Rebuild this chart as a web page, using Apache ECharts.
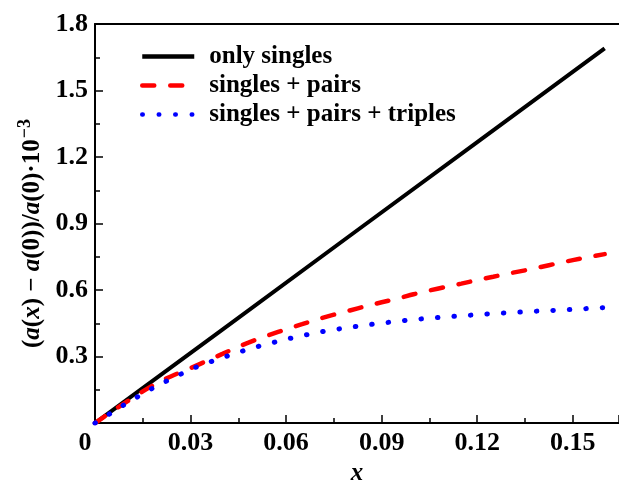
<!DOCTYPE html>
<html>
<head>
<meta charset="utf-8">
<script src="https://cdn.jsdelivr.net/npm/echarts@6/dist/echarts.min.js"></script>
<style>
  html, body { margin: 0; padding: 0; background: #fff; }
  #graph { width: 619px; height: 491px; }
</style>
</head>
<body>
<div id="graph"></div>
<script>
const FONT = "Liberation Serif";

const seriesNames = ["only singles", "singles + pairs", "singles + pairs + triples"];

const xSingles = [0, 0.04, 0.08, 0.12, 0.16];
const ySingles = [0, 0.422, 0.845, 1.267, 1.69];

const xCorr = [0, 0.005, 0.01, 0.015, 0.02, 0.025, 0.03, 0.035, 0.04, 0.045, 0.05,
    0.055, 0.06, 0.065, 0.07, 0.075, 0.08, 0.085, 0.09, 0.095, 0.1, 0.105, 0.11,
    0.115, 0.12, 0.125, 0.13, 0.135, 0.14, 0.145, 0.15, 0.155, 0.16];
const yPairs = [0, 0.050, 0.097, 0.143, 0.185, 0.218, 0.248, 0.280, 0.312, 0.344, 0.373,
    0.399, 0.423, 0.446, 0.469, 0.489, 0.508, 0.527, 0.545, 0.562, 0.581, 0.598, 0.614,
    0.629, 0.645, 0.660, 0.675, 0.689, 0.704, 0.720, 0.735, 0.749, 0.762];
const yTriples = [0, 0.045, 0.090, 0.132, 0.172, 0.207, 0.242, 0.270, 0.295, 0.319, 0.341,
    0.360, 0.378, 0.394, 0.409, 0.421, 0.432, 0.442, 0.451, 0.459, 0.467, 0.473, 0.479,
    0.484, 0.489, 0.494, 0.498, 0.502, 0.506, 0.509, 0.513, 0.517, 0.521];

function pairUp(xs, ys) {
    return xs.map((x, i) => [x, ys[i]]);
}

function createOptions() {
    return {
        animation: false,
        textStyle: { fontFamily: FONT },
        grid: { left: 95, right: 0, top: 24, bottom: 47 },
        legend: {
            data: seriesNames,
            orient: "vertical",
            left: 135,
            top: 39,
            itemWidth: 52,
            itemHeight: 14,
            itemGap: 4,
            itemStyle: { opacity: 0 },
            lineStyle: { width: 4.5 },
            textStyle: { fontFamily: FONT, fontSize: 25, fontWeight: "bold", color: "#000", padding: [0, 0, 0, 10] }
        },
        xAxis: [
            {
                type: "value",
                min: 0,
                max: 0.1645,
                interval: 0.03,
                name: "x",
                nameLocation: "middle",
                nameGap: 28,
                nameTextStyle: { fontFamily: FONT, fontSize: 25, fontWeight: "bold", fontStyle: "italic", color: "#000" },
                axisLine: { lineStyle: { color: "#000", width: 2 } },
                axisTick: { inside: true, length: 8, lineStyle: { color: "#000", width: 1.5 } },
                minorTick: { show: true, splitNumber: 2, length: 5, lineStyle: { color: "#000", width: 1.5 } },
                splitLine: { show: false },
                axisLabel: {
                    showMaxLabel: false,
                    margin: 7,
                    fontFamily: FONT,
                    fontSize: 26,
                    fontWeight: "bold",
                    color: "#000",
                    formatter: (v) => v === 0 ? "{z|0}" : v.toFixed(2),
                    rich: { z: { fontFamily: FONT, fontSize: 26, fontWeight: "bold", color: "#000", padding: [0, 20, 0, 0] } }
                }
            },
            {
                type: "value",
                position: "top",
                min: 0,
                max: 0.1645,
                axisLine: { show: true, lineStyle: { color: "#000", width: 2 } },
                axisTick: { show: false },
                axisLabel: { show: false },
                splitLine: { show: false }
            }
        ],
        yAxis: [
            {
                type: "value",
                min: 0,
                max: 1.8,
                interval: 0.3,
                name: "({i|a}({i|x}) − {i|a}(0))/{i|a}(0)·10{s|−3}",
                nameLocation: "middle",
                nameGap: 45,
                nameTextStyle: {
                    fontFamily: FONT, fontSize: 25, fontWeight: "bold", color: "#000",
                    padding: [0, 20, 0, 0],
                    rich: {
                        i: { fontFamily: FONT, fontSize: 25, fontWeight: "bold", fontStyle: "italic", color: "#000" },
                        s: { fontFamily: FONT, fontSize: 18, fontWeight: "bold", color: "#000", padding: [0, 0, 14, 1] }
                    }
                },
                axisLine: { show: true, lineStyle: { color: "#000", width: 2 } },
                axisTick: { inside: true, length: 8, lineStyle: { color: "#000", width: 1.5 } },
                minorTick: { show: true, splitNumber: 2, length: 5, lineStyle: { color: "#000", width: 1.5 } },
                splitLine: { show: false },
                axisLabel: {
                    margin: 7,
                    fontFamily: FONT,
                    fontSize: 26,
                    fontWeight: "bold",
                    color: "#000",
                    formatter: (v) => v === 0 ? "" : v.toFixed(1)
                }
            }
        ],
        series: [
            {
                name: seriesNames[0],
                type: "line",
                symbol: "none",
                data: pairUp(xSingles, ySingles),
                lineStyle: { color: "#000", width: 4 },
                itemStyle: { color: "#000" }
            },
            {
                name: seriesNames[1],
                type: "line",
                symbol: "none",
                smooth: 0.3,
                data: pairUp(xCorr, yPairs),
                lineStyle: { color: "#ff0000", width: 4.5, type: [12, 16], cap: "round" },
                itemStyle: { color: "#ff0000" }
            },
            {
                name: seriesNames[2],
                type: "line",
                symbol: "none",
                smooth: 0.3,
                data: pairUp(xCorr, yTriples),
                lineStyle: { color: "#0000ff", width: 5, type: [0.5, 16], cap: "round" },
                itemStyle: { color: "#0000ff" }
            }
        ]
    };
}

const container = document.getElementById("graph");
const myChart = echarts.init(container);
myChart.setOption(createOptions());
</script>
</body>
</html>
